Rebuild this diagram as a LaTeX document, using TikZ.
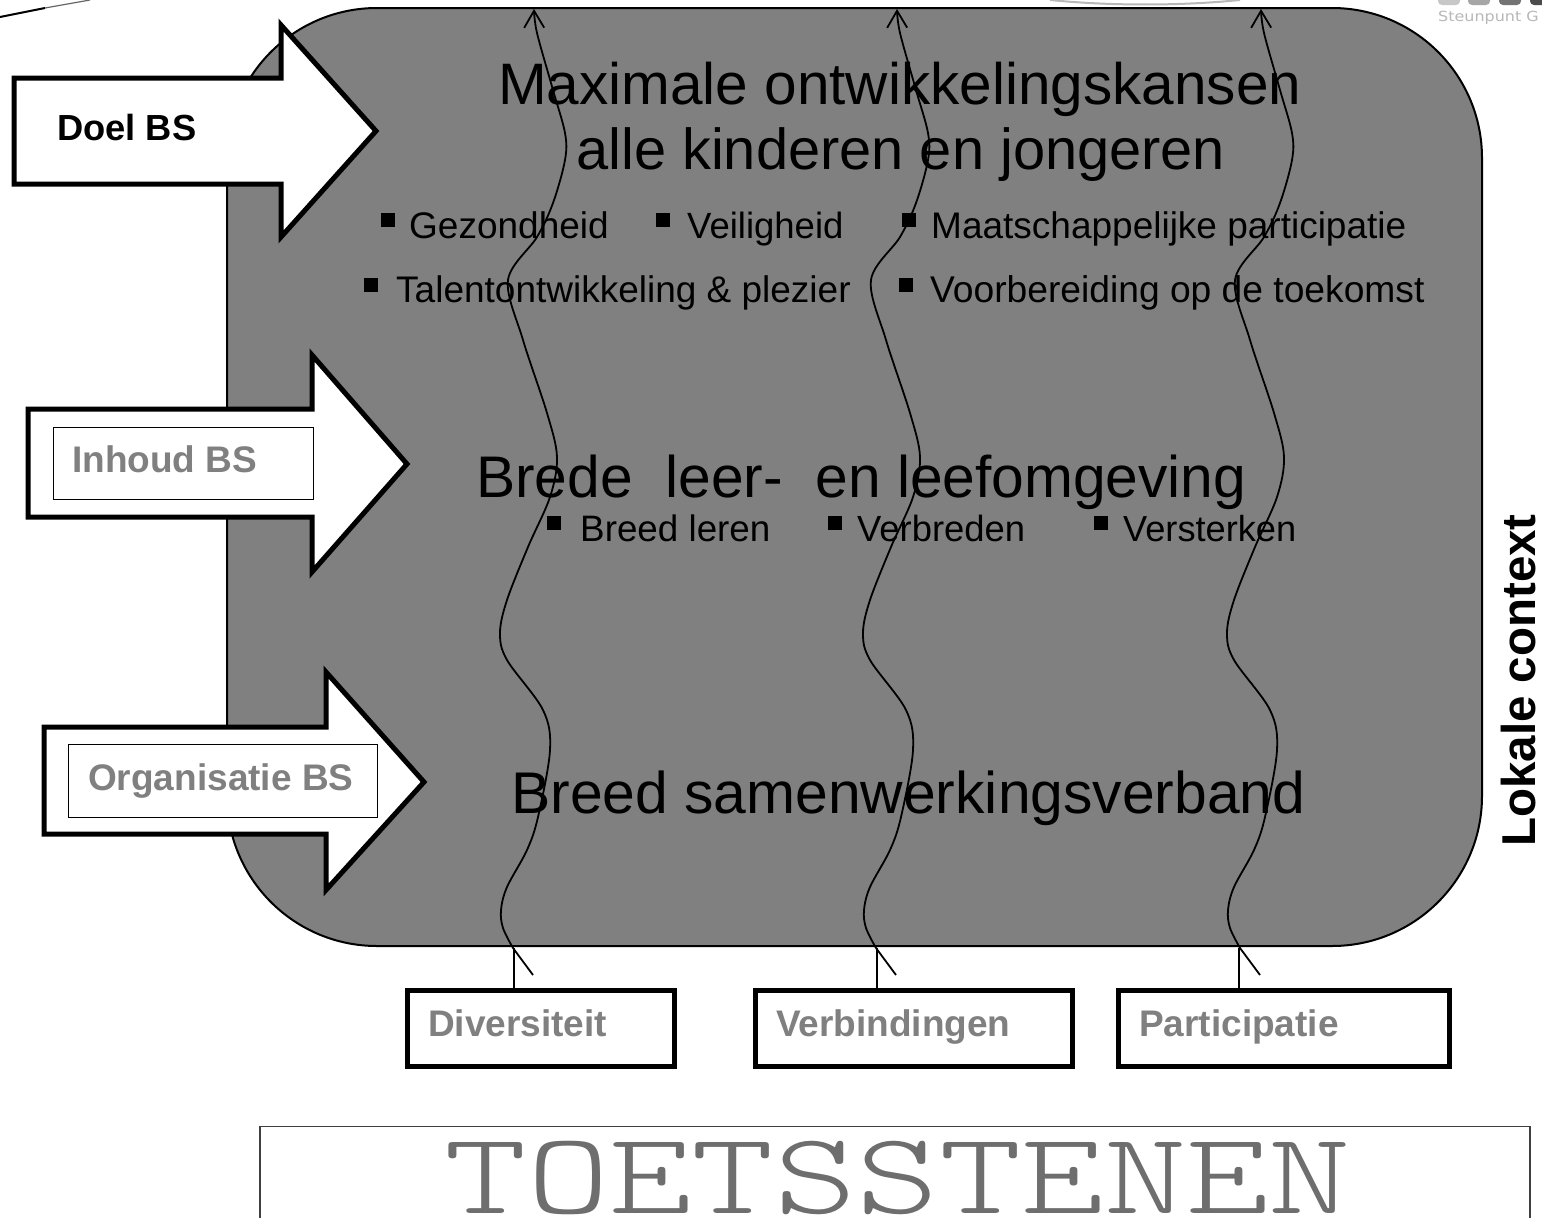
\documentclass[tikz,border=0pt]{standalone}
\usepackage{fontspec}
\setmainfont{Liberation Sans}
\newfontfamily\toets{Latin Modern Mono Light}
\newfontfamily\wide{DejaVu Sans}
\usetikzlibrary{arrows.meta}
\definecolor{midgray}{HTML}{808080}
\definecolor{toetsgray}{HTML}{6E6E6E}
\newcommand{\fs}[1]{\fontsize{#1}{#1}\selectfont}
\tikzset{
  x=1pt,y=-1pt,
  bigtext/.style={anchor=base west,inner sep=0pt,font=\fs{#1}},
  smalltext/.style={anchor=base west,inner sep=0pt,font=\fs{#1}},
  boldlabel/.style={anchor=base west,inner sep=0pt,font=\bfseries\fs{#1}},
  graylabel/.style={boldlabel=37,text=midgray},
  bigarrow/.style={draw=black,line width=5pt,fill=white,miter limit=10},
  innerbox/.style={draw=black,line width=1pt,fill=white},
  heavybox/.style={draw=black,line width=5pt,fill=white,inner sep=0pt,anchor=north west},
  wave/.style={draw=black,line width=1.8pt},
  bulletmark/.style={fill=black},
}
\begin{document}
\begin{tikzpicture}
\useasboundingbox (0,0) rectangle (1542,1218);
\clip (0,0) rectangle (1542,1218);
\fill[white] (0,0) rectangle (1542,1218);

% clipped fragments of logos at the top edge
\draw[black,line width=2pt] (0,17) -- (45,8);
\draw[black!60,line width=1.2pt] (45,8) -- (90,0);
\draw[black!28,line width=2pt] (1050,0) .. controls (1110,6) and (1180,6) .. (1240,0);
\foreach \xa/\col in {1438/black!22,1468/black!35,1499/black!55,1530/black!70}
  \fill[\col,rounded corners=4pt] (\xa,-10) rectangle (\xa+22,5);
\node[anchor=base west,inner sep=0pt,text=black!28,font=\wide\fs{14},xscale=1.14,transform shape] (logotext) at (1438,21) {Steunpunt G};

% main panel
\node[draw=black,line width=2pt,fill=midgray,rounded corners=150pt,minimum width=1255pt,minimum height=938pt,inner sep=0pt,anchor=north west] (panel) at (226,7) {};

% texts in panel
\node[bigtext=58.5] (t1) at (498,104) {Maximale ontwikkelingskansen};
\node[bigtext=57.8] (t2) at (576,169) {alle kinderen en jongeren};
\node[bigtext=58.7] (t3) at (476,497) {Brede\ \ leer-\ \ en leefomgeving};
\node[bigtext=58.8] (t4) at (511,813) {Breed samenwerkingsverband};

\foreach \xa/\ya in {381/213,656/213,902/213,364/278,899/278,547/516,828/516,1094/516}
  \fill[bulletmark] (\xa,\ya) rectangle (\xa+14,\ya+14);
\node[smalltext=37] (s1) at (409,238) {Gezondheid};
\node[smalltext=36.5] (s2) at (687,238) {Veiligheid};
\node[smalltext=37] (s3) at (931,238) {Maatschappelijke participatie};
\node[smalltext=37] (s4) at (396,302) {Talentontwikkeling \& plezier};
\node[smalltext=37.2] (s5) at (930,302) {Voorbereiding op de toekomst};
\node[smalltext=36.8] (s6) at (580,541) {Breed leren};
\node[smalltext=36.4] (s7) at (857,541) {Verbreden};
\node[smalltext=36.2] (s8) at (1123,541) {Versterken};

% bottom boxes
\node[heavybox,minimum width=267pt,minimum height=76pt] (div) at (405,988) {};
\node[heavybox,minimum width=317pt,minimum height=76pt] (ver) at (753,988) {};
\node[heavybox,minimum width=331pt,minimum height=76pt] (par) at (1116,988) {};
\node[graylabel] (ldiv) at (428,1036) {Diversiteit};
\node[graylabel] (lver) at (776,1036) {Verbindingen};
\node[graylabel] (lpar) at (1139,1036) {Participatie};

% wavy arrows
\foreach \off/\vx/\bx in {0/514/div,363/877/ver,727/1239/par}{
  \coordinate (tail\bx) at (\vx,948);
  \draw[wave] (\bx.north -| tail\bx) -- (tail\bx);
  \begin{scope}[xshift=\off pt]
    \draw[wave,-{Straight Barb[length=17pt,width=20pt,line width=1.8pt]}]
      (533,975) -- (513,948)
      plot[smooth,tension=.55] coordinates {(513,948) (503,928) (501,910) (507,887) (527,850) (538,817) (550,750) (543,710) (507,660) (500,633) (507,600) (528,547) (550,497) (557,457) (547,413) (523,340) (508,280) (537,237) (553,203) (565,160) (565,133) (553,90) (537,33) (534,9)};
  \end{scope}
}

% big arrows
\draw[bigarrow] (14,78) -- (281,78) -- (281,25) -- (376,131) -- (281,237) -- (281,184) -- (14,184) -- cycle;
\node[boldlabel=36.3] (doel) at (57,140) {Doel BS};

\draw[bigarrow] (28,409) -- (312,409) -- (312,355) -- (407,464) -- (312,572) -- (312,517) -- (28,517) -- cycle;
\node[innerbox,minimum width=260pt,minimum height=72pt,inner sep=0pt,anchor=north west] (ibox) at (53,427) {};
\node[graylabel] (inh) at (72,472) {Inhoud BS};

\draw[bigarrow] (44,727) -- (326,727) -- (326,672) -- (424,782) -- (326,890) -- (326,834) -- (44,834) -- cycle;
\node[innerbox,minimum width=309pt,minimum height=73pt,inner sep=0pt,anchor=north west] (obox) at (68,744) {};
\node[graylabel] (org) at (88,790) {Organisatie BS};

% side label
\node[anchor=base west,inner sep=0pt,rotate=90,font=\bfseries\fs{47.5}] (lokaal) at (1535,847) {Lokale context};

% toetsstenen box
\draw[draw=black!75,line width=1.4pt] (260,1240) -- (260,1126.5) -- (1530,1126.5) -- (1530,1240);
\node[anchor=base,inner sep=0pt,text=toetsgray,font=\toets\fs{157},yscale=0.74,transform shape] (toets) at (898,1213) {TOETSSTENEN};
\end{tikzpicture}
\end{document}
